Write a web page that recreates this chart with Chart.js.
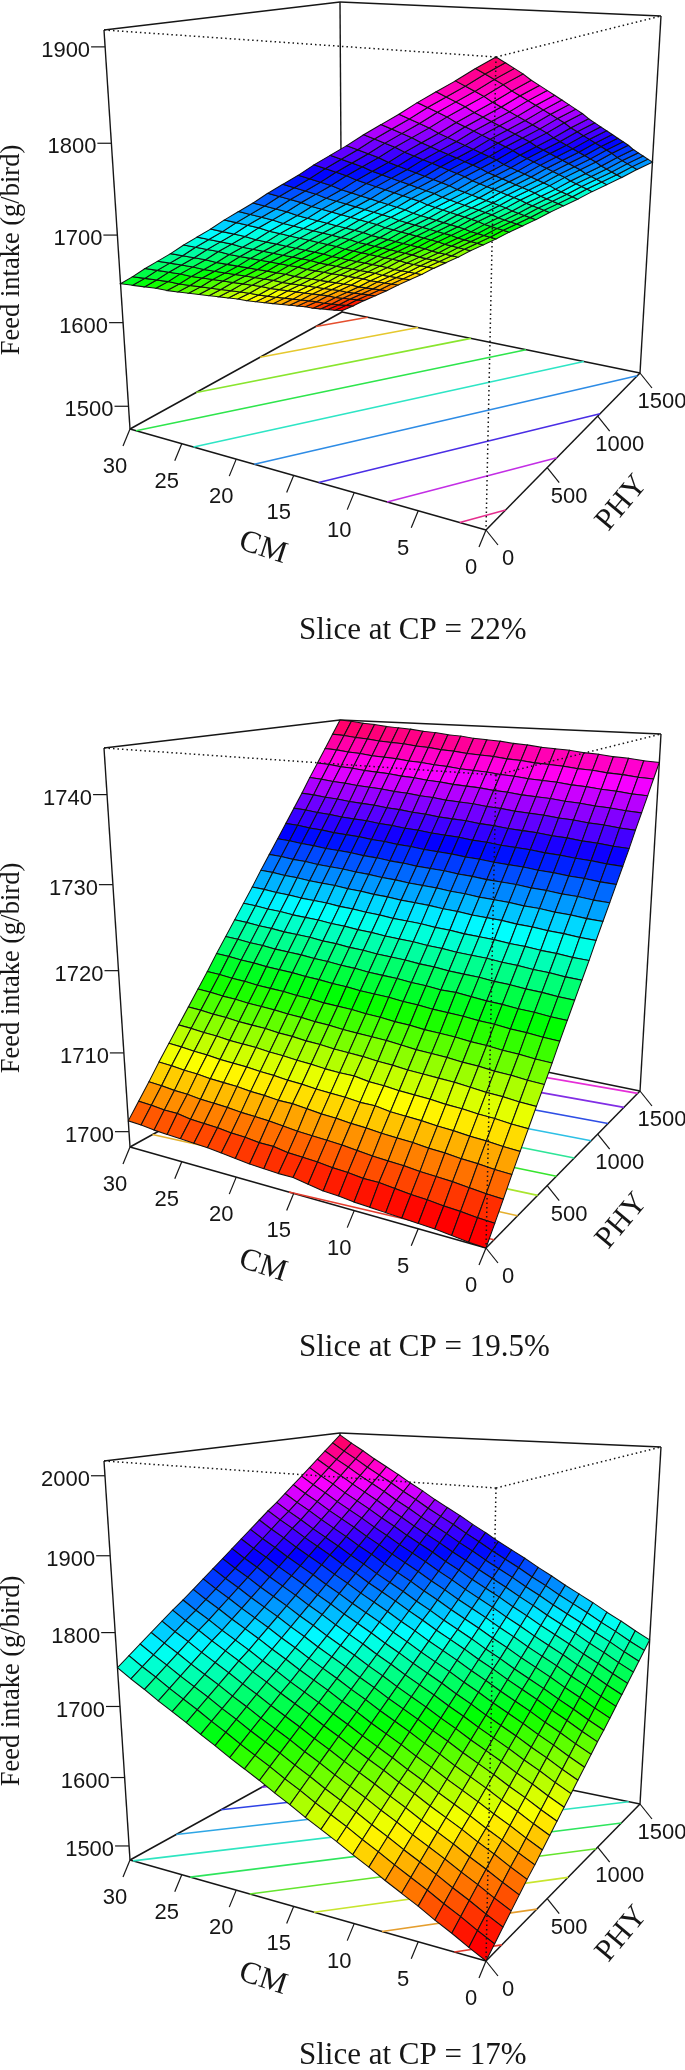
<!DOCTYPE html>
<html lang="en">
<head>
  <meta charset="UTF-8">
  <title>Feed intake response surfaces</title>
  <script src="https://cdn.jsdelivr.net/npm/chart.js"></script>
  <style>
    html, body { margin: 0; background: #fff; }
    canvas { position: absolute; left: 0; }
  </style>
</head>
<body>
  <canvas id="slice22" width="685" height="718" style="top:0"></canvas>
  <canvas id="slice195" width="685" height="713" style="top:718px"></canvas>
  <canvas id="slice17" width="685" height="639" style="top:1431px"></canvas>

  <script>
    // axis values
    const cmTicks = [0, 5, 10, 15, 20, 25, 30];
    const phyTicks = [0, 500, 1000, 1500];
    const zTicks22 = [1500, 1600, 1700, 1800, 1900];
    const zTicks195 = [1700, 1710, 1720, 1730, 1740];
    const zTicks17 = [1500, 1600, 1700, 1800, 1900, 2000];
    const cmGrid = [0, 1.25, 2.5, 3.75, 5, 6.25, 7.5, 8.75, 10, 11.25, 12.5, 13.75, 15, 16.25, 17.5, 18.75, 20, 21.25, 22.5, 23.75, 25, 26.25, 27.5, 28.75, 30];
    const phyGrid = [0, 62.5, 125, 187.5, 250, 312.5, 375, 437.5, 500, 562.5, 625, 687.5, 750, 812.5, 875, 937.5, 1000, 1062.5, 1125, 1187.5, 1250, 1312.5, 1375, 1437.5, 1500];

    // feed intake: one row per phyGrid value, one column per cmGrid value
    const surface22 = [
      [1917,1906,1894,1883,1872,1860,1849,1838,1826,1815,1804,1792,1781,1770,1758,1747,1736,1724,1713,1702,1690,1679,1668,1656,1645],
      [1910,1899,1887,1876,1865,1853,1842,1831,1819,1808,1797,1785,1774,1763,1751,1740,1729,1717,1706,1695,1683,1672,1661,1649,1638],
      [1903,1892,1880,1869,1858,1846,1835,1824,1812,1801,1790,1778,1767,1756,1744,1733,1722,1710,1699,1688,1676,1665,1654,1642,1631],
      [1896,1885,1873,1862,1851,1839,1828,1817,1805,1794,1783,1771,1760,1749,1737,1726,1715,1703,1692,1681,1669,1658,1647,1635,1624],
      [1888,1877,1865,1854,1843,1831,1820,1809,1797,1786,1775,1763,1752,1741,1729,1718,1707,1695,1684,1673,1661,1650,1639,1627,1616],
      [1881,1870,1858,1847,1836,1824,1813,1802,1790,1779,1768,1756,1745,1734,1722,1711,1700,1688,1677,1666,1654,1643,1632,1620,1609],
      [1874,1863,1851,1840,1829,1817,1806,1795,1783,1772,1761,1749,1738,1727,1715,1704,1693,1681,1670,1659,1647,1636,1625,1613,1602],
      [1867,1856,1844,1833,1822,1810,1799,1788,1776,1765,1754,1742,1731,1720,1708,1697,1686,1674,1663,1652,1640,1629,1618,1606,1595],
      [1860,1849,1837,1826,1815,1803,1792,1781,1769,1758,1747,1735,1724,1713,1701,1690,1679,1667,1656,1645,1633,1622,1611,1599,1588],
      [1853,1842,1830,1819,1808,1796,1785,1774,1762,1751,1740,1728,1717,1706,1694,1683,1672,1660,1649,1638,1626,1615,1604,1592,1581],
      [1846,1835,1823,1812,1801,1789,1778,1767,1755,1744,1733,1721,1710,1699,1687,1676,1665,1653,1642,1631,1619,1608,1597,1585,1574],
      [1839,1828,1816,1805,1794,1782,1771,1760,1748,1737,1726,1714,1703,1692,1680,1669,1658,1646,1635,1624,1612,1601,1590,1578,1567],
      [1831,1820,1808,1797,1786,1774,1763,1752,1740,1729,1718,1706,1695,1684,1672,1661,1650,1638,1627,1616,1604,1593,1582,1570,1559],
      [1824,1813,1801,1790,1779,1767,1756,1745,1733,1722,1711,1699,1688,1677,1665,1654,1643,1631,1620,1609,1597,1586,1575,1563,1552],
      [1817,1806,1794,1783,1772,1760,1749,1738,1726,1715,1704,1692,1681,1670,1658,1647,1636,1624,1613,1602,1590,1579,1568,1556,1545],
      [1810,1799,1787,1776,1765,1753,1742,1731,1719,1708,1697,1685,1674,1663,1651,1640,1629,1617,1606,1595,1583,1572,1561,1549,1538],
      [1803,1792,1780,1769,1758,1746,1735,1724,1712,1701,1690,1678,1667,1656,1644,1633,1622,1610,1599,1588,1576,1565,1554,1542,1531],
      [1796,1785,1773,1762,1751,1739,1728,1717,1705,1694,1683,1671,1660,1649,1637,1626,1615,1603,1592,1581,1569,1558,1547,1535,1524],
      [1789,1778,1766,1755,1744,1732,1721,1710,1698,1687,1676,1664,1653,1642,1630,1619,1608,1596,1585,1574,1562,1551,1540,1528,1517],
      [1782,1771,1759,1748,1737,1725,1714,1703,1691,1680,1669,1657,1646,1635,1623,1612,1601,1589,1578,1567,1555,1544,1533,1521,1510],
      [1774,1763,1751,1740,1729,1717,1706,1695,1683,1672,1661,1649,1638,1627,1615,1604,1593,1581,1570,1559,1547,1536,1525,1513,1502],
      [1767,1756,1744,1733,1722,1710,1699,1688,1676,1665,1654,1642,1631,1620,1608,1597,1586,1574,1563,1552,1540,1529,1518,1506,1495],
      [1760,1749,1737,1726,1715,1703,1692,1681,1669,1658,1647,1635,1624,1613,1601,1590,1579,1567,1556,1545,1533,1522,1511,1499,1488],
      [1753,1742,1730,1719,1708,1696,1685,1674,1662,1651,1640,1628,1617,1606,1594,1583,1572,1560,1549,1538,1526,1515,1504,1492,1481],
      [1746,1735,1723,1712,1701,1689,1678,1667,1655,1644,1633,1621,1610,1599,1587,1576,1565,1553,1542,1531,1519,1508,1497,1485,1474]
    ];
    const surface195 = [
      [1698.0,1698.1,1698.3,1698.5,1698.6,1698.7,1698.8,1698.9,1699.0,1699.2,1699.3,1699.6,1699.9,1699.9,1700.0,1700.1,1700.3,1700.5,1700.7,1700.8,1700.9,1701.0,1701.1,1701.3,1701.4],
      [1699.8,1699.9,1700.1,1700.2,1700.4,1700.5,1700.7,1700.9,1700.9,1701.1,1701.2,1701.4,1701.5,1701.6,1701.9,1701.9,1702.1,1702.2,1702.4,1702.5,1702.6,1702.9,1702.9,1703.1,1703.2],
      [1701.6,1701.7,1701.9,1702.1,1702.2,1702.3,1702.5,1702.6,1702.7,1702.9,1703.1,1703.2,1703.3,1703.4,1703.6,1703.8,1703.9,1704.0,1704.2,1704.3,1704.4,1704.6,1704.7,1704.9,1705.0],
      [1703.5,1703.6,1703.8,1703.9,1704.1,1704.2,1704.4,1704.5,1704.6,1704.8,1704.9,1705.1,1705.2,1705.4,1705.6,1705.6,1705.8,1705.9,1706.1,1706.2,1706.3,1706.5,1706.6,1706.8,1706.9],
      [1705.3,1705.4,1705.6,1705.7,1705.9,1706.0,1706.2,1706.3,1706.4,1706.7,1706.7,1706.9,1707.0,1707.1,1707.3,1707.4,1707.6,1707.7,1707.9,1708.0,1708.1,1708.3,1708.4,1708.6,1708.7],
      [1707.1,1707.2,1707.4,1707.5,1707.7,1707.8,1708.0,1708.1,1708.2,1708.4,1708.5,1708.8,1708.8,1708.9,1709.1,1709.2,1709.4,1709.5,1709.7,1709.8,1709.9,1710.1,1710.2,1710.4,1710.5],
      [1708.9,1709.0,1709.2,1709.3,1709.5,1709.7,1709.8,1709.9,1710.0,1710.2,1710.3,1710.5,1710.6,1710.7,1710.9,1711.0,1711.2,1711.3,1711.5,1711.6,1711.7,1711.9,1712.0,1712.2,1712.3],
      [1710.7,1710.8,1711.0,1711.1,1711.3,1711.4,1711.6,1711.7,1711.8,1712.0,1712.2,1712.3,1712.4,1712.5,1712.7,1712.8,1713.0,1713.1,1713.3,1713.4,1713.5,1713.7,1713.8,1714.0,1714.1],
      [1712.5,1712.6,1712.8,1712.9,1713.1,1713.2,1713.4,1713.5,1713.6,1713.8,1713.9,1714.1,1714.2,1714.4,1714.5,1714.6,1714.8,1714.9,1715.1,1715.2,1715.3,1715.5,1715.6,1715.8,1715.9],
      [1714.4,1714.5,1714.7,1714.8,1715.0,1715.1,1715.3,1715.4,1715.5,1715.7,1715.8,1716.0,1716.1,1716.2,1716.4,1716.5,1716.7,1716.8,1717.0,1717.1,1717.2,1717.4,1717.5,1717.7,1717.8],
      [1716.2,1716.3,1716.5,1716.6,1716.8,1716.9,1717.1,1717.3,1717.3,1717.5,1717.6,1717.8,1717.9,1718.0,1718.2,1718.3,1718.5,1718.6,1718.8,1718.9,1719.0,1719.2,1719.3,1719.5,1719.6],
      [1718.0,1718.1,1718.3,1718.4,1718.6,1718.7,1718.9,1719.0,1719.1,1719.3,1719.4,1719.6,1719.7,1719.8,1720.0,1720.1,1720.3,1720.4,1720.6,1720.7,1720.8,1721.0,1721.1,1721.3,1721.4],
      [1719.8,1719.9,1720.1,1720.2,1720.4,1720.5,1720.7,1720.8,1720.9,1721.1,1721.2,1721.4,1721.5,1721.6,1721.8,1721.9,1722.1,1722.2,1722.4,1722.5,1722.6,1722.8,1722.9,1723.1,1723.2],
      [1721.6,1721.7,1721.9,1722.0,1722.2,1722.3,1722.5,1722.6,1722.7,1722.9,1723.0,1723.2,1723.3,1723.4,1723.6,1723.7,1723.9,1724.0,1724.2,1724.3,1724.4,1724.6,1724.7,1724.9,1725.0],
      [1723.5,1723.6,1723.8,1723.9,1724.1,1724.2,1724.4,1724.5,1724.6,1724.8,1724.9,1725.1,1725.2,1725.3,1725.5,1725.6,1725.8,1725.9,1726.1,1726.2,1726.3,1726.5,1726.6,1726.8,1726.9],
      [1725.3,1725.4,1725.6,1725.7,1725.9,1726.0,1726.2,1726.3,1726.4,1726.6,1726.7,1726.9,1727.0,1727.1,1727.3,1727.4,1727.6,1727.7,1727.9,1728.0,1728.1,1728.3,1728.4,1728.6,1728.7],
      [1727.1,1727.2,1727.4,1727.5,1727.7,1727.8,1728.0,1728.1,1728.2,1728.4,1728.5,1728.7,1728.8,1728.9,1729.1,1729.2,1729.4,1729.5,1729.7,1729.8,1729.9,1730.1,1730.2,1730.4,1730.5],
      [1728.9,1729.0,1729.2,1729.3,1729.5,1729.6,1729.8,1729.9,1730.0,1730.2,1730.3,1730.5,1730.6,1730.7,1730.9,1731.0,1731.2,1731.3,1731.5,1731.6,1731.7,1731.9,1732.0,1732.2,1732.3],
      [1730.7,1730.8,1731.0,1731.1,1731.3,1731.4,1731.6,1731.7,1731.8,1732.0,1732.1,1732.3,1732.4,1732.5,1732.7,1732.8,1733.0,1733.1,1733.3,1733.4,1733.5,1733.7,1733.8,1734.0,1734.1],
      [1732.5,1732.6,1732.8,1732.9,1733.1,1733.2,1733.4,1733.5,1733.6,1733.8,1733.9,1734.1,1734.2,1734.3,1734.5,1734.6,1734.8,1734.9,1735.1,1735.2,1735.3,1735.5,1735.6,1735.8,1735.9],
      [1734.4,1734.5,1734.7,1734.8,1735.0,1735.1,1735.3,1735.4,1735.5,1735.7,1735.8,1736.0,1736.1,1736.2,1736.4,1736.5,1736.7,1736.8,1737.0,1737.1,1737.2,1737.4,1737.5,1737.7,1737.8],
      [1736.2,1736.3,1736.5,1736.6,1736.8,1736.9,1737.1,1737.2,1737.3,1737.5,1737.6,1737.8,1737.9,1738.0,1738.2,1738.3,1738.5,1738.6,1738.8,1738.9,1739.0,1739.2,1739.3,1739.5,1739.6],
      [1738.0,1738.1,1738.3,1738.4,1738.6,1738.7,1738.9,1739.0,1739.1,1739.3,1739.4,1739.6,1739.7,1739.8,1740.0,1740.1,1740.3,1740.4,1740.6,1740.7,1740.8,1741.0,1741.1,1741.3,1741.4],
      [1739.8,1739.9,1740.1,1740.2,1740.4,1740.5,1740.7,1740.8,1740.9,1741.1,1741.2,1741.4,1741.5,1741.6,1741.8,1741.9,1742.1,1742.2,1742.4,1742.5,1742.6,1742.8,1742.9,1743.1,1743.2],
      [1741.6,1741.7,1741.9,1742.0,1742.2,1742.3,1742.5,1742.6,1742.7,1742.9,1743.0,1743.2,1743.3,1743.4,1743.6,1743.7,1743.9,1744.0,1744.2,1744.3,1744.4,1744.6,1744.7,1744.9,1745.0]
    ];
    const surface17 = [
      [1479,1490,1502,1513,1525,1536,1547,1559,1570,1582,1593,1604,1616,1627,1639,1650,1661,1673,1684,1696,1707,1718,1730,1741,1753],
      [1490,1501,1513,1524,1536,1547,1558,1570,1581,1593,1604,1615,1627,1638,1650,1661,1672,1684,1695,1707,1718,1729,1741,1752,1764],
      [1501,1512,1524,1535,1547,1558,1569,1581,1592,1604,1615,1626,1638,1649,1661,1672,1683,1695,1706,1718,1729,1740,1752,1763,1775],
      [1512,1523,1535,1546,1558,1569,1580,1592,1603,1615,1626,1637,1649,1660,1672,1683,1694,1706,1717,1729,1740,1751,1763,1774,1786],
      [1523,1534,1546,1557,1569,1580,1591,1603,1614,1626,1637,1648,1660,1671,1683,1694,1705,1717,1728,1740,1751,1762,1774,1785,1797],
      [1534,1545,1557,1568,1580,1591,1602,1614,1625,1637,1648,1659,1671,1682,1694,1705,1716,1728,1739,1751,1762,1773,1785,1796,1808],
      [1544,1555,1567,1578,1590,1601,1612,1624,1635,1647,1658,1669,1681,1692,1704,1715,1726,1738,1749,1761,1772,1783,1795,1806,1818],
      [1555,1566,1578,1589,1601,1612,1623,1635,1646,1658,1669,1680,1692,1703,1715,1726,1737,1749,1760,1772,1783,1794,1806,1817,1829],
      [1566,1577,1589,1600,1612,1623,1634,1646,1657,1669,1680,1691,1703,1714,1726,1737,1748,1760,1771,1783,1794,1805,1817,1828,1840],
      [1577,1588,1600,1611,1623,1634,1645,1657,1668,1680,1691,1702,1714,1725,1737,1748,1759,1771,1782,1794,1805,1816,1828,1839,1851],
      [1588,1599,1611,1622,1634,1645,1656,1668,1679,1691,1702,1713,1725,1736,1748,1759,1770,1782,1793,1805,1816,1827,1839,1850,1862],
      [1599,1610,1622,1633,1645,1656,1667,1679,1690,1702,1713,1724,1736,1747,1759,1770,1781,1793,1804,1816,1827,1838,1850,1861,1873],
      [1610,1621,1633,1644,1656,1667,1678,1690,1701,1713,1724,1735,1747,1758,1770,1781,1792,1804,1815,1827,1838,1849,1861,1872,1884],
      [1621,1632,1644,1655,1667,1678,1689,1701,1712,1724,1735,1746,1758,1769,1781,1792,1803,1815,1826,1838,1849,1860,1872,1883,1895],
      [1632,1643,1655,1666,1678,1689,1700,1712,1723,1735,1746,1757,1769,1780,1792,1803,1814,1826,1837,1849,1860,1871,1883,1894,1906],
      [1643,1654,1666,1677,1689,1700,1711,1723,1734,1746,1757,1768,1780,1791,1803,1814,1825,1837,1848,1860,1871,1882,1894,1905,1917],
      [1653,1664,1676,1687,1699,1710,1721,1733,1744,1756,1767,1778,1790,1801,1813,1824,1835,1847,1858,1870,1881,1892,1904,1915,1927],
      [1664,1675,1687,1698,1710,1721,1732,1744,1755,1767,1778,1789,1801,1812,1824,1835,1846,1858,1869,1881,1892,1903,1915,1926,1938],
      [1675,1686,1698,1709,1721,1732,1743,1755,1766,1778,1789,1800,1812,1823,1835,1846,1857,1869,1880,1892,1903,1914,1926,1937,1949],
      [1686,1697,1709,1720,1732,1743,1754,1766,1777,1789,1800,1811,1823,1834,1846,1857,1868,1880,1891,1903,1914,1925,1937,1948,1960],
      [1697,1708,1720,1731,1743,1754,1765,1777,1788,1800,1811,1822,1834,1845,1857,1868,1879,1891,1902,1914,1925,1936,1948,1959,1971],
      [1708,1719,1731,1742,1754,1765,1776,1788,1799,1811,1822,1833,1845,1856,1868,1879,1890,1902,1913,1925,1936,1947,1959,1970,1982],
      [1719,1730,1742,1753,1765,1776,1787,1799,1810,1822,1833,1844,1856,1867,1879,1890,1901,1913,1924,1936,1947,1958,1970,1981,1993],
      [1730,1741,1753,1764,1776,1787,1798,1810,1821,1833,1844,1855,1867,1878,1890,1901,1912,1924,1935,1947,1958,1969,1981,1992,2004],
      [1741,1752,1764,1775,1787,1798,1809,1821,1832,1844,1855,1866,1878,1889,1901,1912,1923,1935,1946,1958,1969,1980,1992,2003,2015]
    ];

    // floor contours: level, then CM and PHY at each end of the line
    const contours22 = [
      [1900, 1.9, 0, 0, 149], [1850, 7.4, 0, 0, 588], [1800, 12.9, 0, 0, 1026],
      [1750, 18.4, 0, 0, 1465], [1700, 23.9, 0, 5.1, 1500], [1650, 29.4, 0, 10.6, 1500],
      [1600, 30, 395, 16.1, 1500], [1550, 30, 833, 21.6, 1500], [1500, 30, 1272, 27.1, 1500]
    ];
    const contours195 = [
      [1700, 15.4, 0, 0, 60], [1705, 30, 128, 0, 245], [1710, 30, 298, 0, 415],
      [1715, 30, 468, 0, 585], [1720, 30, 640, 0, 757], [1725, 30, 813, 0, 930],
      [1730, 30, 998, 0, 1115], [1735, 30, 1183, 0, 1300], [1740, 30, 1353, 0, 1470]
    ];
    const contours17 = [
      [1500, 2.3, 0, 0, 120], [1550, 7.8, 0, 0, 408], [1600, 13.3, 0, 0, 695],
      [1650, 18.8, 0, 0, 983], [1700, 24.2, 0, 0, 1270], [1750, 29.7, 0, 1, 1500],
      [1800, 30, 270, 6.5, 1500], [1850, 30, 557, 12, 1500], [1900, 30, 845, 17.4, 1500],
      [1950, 30, 1132, 22.9, 1500], [2000, 30, 1420, 28.4, 1500]
    ];

    // box corners on the page, same box in all three panels
    const floorCorners = { F: [486, 530], L: [130, 429], B: [342, 312], R: [640, 373] };
    const roofCorners = { F: [496, 57], L: [104, 30], B: [340, 2], R: [661, 16] };
    const INK = '#161616';

    function quadMap(c) {
      const [x0, y0] = c.F, [x1, y1] = c.L, [x2, y2] = c.B, [x3, y3] = c.R;
      const dx1 = x1 - x2, dx2 = x3 - x2, sx = x0 - x1 + x2 - x3;
      const dy1 = y1 - y2, dy2 = y3 - y2, sy = y0 - y1 + y2 - y3;
      const den = dx1 * dy2 - dx2 * dy1;
      const g = (sx * dy2 - dx2 * sy) / den, h = (dx1 * sy - sx * dy1) / den;
      return (u, v) => {
        const w = g * u + h * v + 1;
        return [((x1 - x0 + g * x1) * u + (x3 - x0 + h * x3) * v + x0) / w,
                ((y1 - y0 + g * y1) * u + (y3 - y0 + h * y3) * v + y0) / w];
      };
    }
    const floorMap = quadMap(floorCorners);
    const roofMap = quadMap(roofCorners);

    function makeProject(zMin, zMax) {
      return (cm, phy, z) => {
        const s = (z - zMin) / (zMax - zMin);
        const w = 0.9 * s / ((1 - s) + 0.9 * s); // top of box is a bit nearer
        const a = floorMap(cm / 30, phy / 1500), b = roofMap(cm / 30, phy / 1500);
        return { x: a[0] + (b[0] - a[0]) * w, y: a[1] + (b[1] - a[1]) * w };
      };
    }

    function lineSet(points, color, width, order, dash) {
      return {
        data: points, showLine: true, pointRadius: 0, fill: false, order: order,
        borderColor: color, borderWidth: width, borderDash: dash || [], tension: 0
      };
    }

    function drawPanel(id, height, surface, contours, zTicks, zMin, zMax, title, titleY) {
      const project = makeProject(zMin, zMax);
      const flat = surface.flat();
      const lo = Math.min(...flat), hi = Math.max(...flat);
      const hue = z => Math.max(0, (z - lo) / (hi - lo) * 352 - 10);
      const datasets = [];

      // box and floor, behind the surface
      const floorZ = zMin, roofZ = zMax;
      const corner = { L: [30, 0], F: [0, 0], R: [0, 1500], B: [30, 1500] };
      const at = (name, z) => project(corner[name][0], corner[name][1], z);
      [['L', 'B'], ['B', 'R'], ['L', 'F'], ['F', 'R']].forEach(e => {
        datasets.push(lineSet([at(e[0], floorZ), at(e[1], floorZ)], INK, 1.5, 5));
      });
      [['L', 'B'], ['B', 'R']].forEach(e => {
        datasets.push(lineSet([at(e[0], roofZ), at(e[1], roofZ)], INK, 1.5, 5));
      });
      ['L', 'B', 'R'].forEach(n => {
        datasets.push(lineSet([at(n, floorZ), at(n, roofZ)], INK, 1.4, 5));
      });

      contours.forEach(c => {
        const color = 'hsl(' + hue(c[0]) + ',78%,54%)';
        datasets.push(lineSet([project(c[1], c[2], zMin), project(c[3], c[4], zMin)], color, 1.6, 4));
      });

      // surface cells
      for (let j = 0; j < phyGrid.length - 1; j++) {
        for (let i = 0; i < cmGrid.length - 1; i++) {
          const z00 = surface[j][i], z10 = surface[j][i + 1], z01 = surface[j + 1][i], z11 = surface[j + 1][i + 1];
          const p0 = project(cmGrid[i], phyGrid[j], z00);
          const cell = lineSet([
            p0,
            project(cmGrid[i + 1], phyGrid[j], z10),
            project(cmGrid[i + 1], phyGrid[j + 1], z11),
            project(cmGrid[i], phyGrid[j + 1], z01),
            p0
          ], '#111', 1.05, 3);
          cell.fill = 'shape';
          cell.backgroundColor = 'hsl(' + hue((z00 + z10 + z01 + z11) / 4) + ',100%,50%)';
          datasets.push(cell);
        }
      }

      // dotted front edges show through the surface
      [[at('L', roofZ), at('F', roofZ)], [at('F', roofZ), at('R', roofZ)], [at('F', roofZ), at('F', floorZ)]].forEach(pts => {
        datasets.push(lineSet(pts, INK, 1.5, 2, [1.5, 3]));
      });

      // tick marks
      cmTicks.forEach(v => {
        const p = project(v, 0, zMin);
        datasets.push(lineSet([p, { x: p.x - 7, y: p.y + 17 }], INK, 1.2, 1));
      });
      phyTicks.forEach(v => {
        const p = project(0, v, zMin);
        datasets.push(lineSet([p, { x: p.x + 12, y: p.y + 15 }], INK, 1.2, 1));
      });
      zTicks.forEach(v => {
        const p = project(30, 0, v);
        datasets.push(lineSet([p, { x: p.x - 14, y: p.y }], INK, 1.2, 1));
      });

      // labels are written through the chart's scales so they sit with the marks
      const textPlugin = {
        id: 'boxText',
        afterDraw(chart) {
          const ctx = chart.ctx, sx = chart.scales.x, sy = chart.scales.y;
          const put = (text, x, y, font, align, angle) => {
            ctx.save();
            ctx.translate(sx.getPixelForValue(x), sy.getPixelForValue(y));
            ctx.rotate((angle || 0) * Math.PI / 180);
            ctx.font = font;
            ctx.fillStyle = INK;
            ctx.textAlign = align || 'center';
            ctx.textBaseline = 'middle';
            ctx.fillText(text, 0, 0);
            ctx.restore();
          };
          const tickFont = '22px "Liberation Sans"', serif = '"Liberation Serif"';
          cmTicks.forEach(v => {
            const p = project(v, 0, zMin);
            put(String(v), p.x - 15, p.y + 38, tickFont);
          });
          phyTicks.forEach(v => {
            const p = project(0, v, zMin);
            put(String(v), p.x + 22, p.y + 29, tickFont);
          });
          zTicks.forEach(v => {
            const p = project(30, 0, v);
            put(String(v), p.x - 15, p.y + 4, tickFont, 'right');
          });
          put('Feed intake (g/bird)', 12, 250, '26.5px ' + serif, 'center', -90);
          put('CM', 263, 548, '31px ' + serif, 'center', 18);
          put('PHY', 622, 503, '31px ' + serif, 'center', -50);
          put(title, 299, titleY, '31px ' + serif, 'left');
        }
      };

      new Chart(document.getElementById(id), {
        type: 'scatter',
        data: { datasets: datasets },
        plugins: [textPlugin],
        options: {
          responsive: false,
          animation: false,
          events: [],
          clip: false,
          layout: { padding: 0 },
          plugins: { legend: { display: false }, tooltip: { enabled: false } },
          scales: {
            x: { type: 'linear', min: 0, max: 685, display: false },
            y: { type: 'linear', min: 0, max: height, reverse: true, display: false }
          }
        }
      });
    }

    drawPanel('slice22', 718, surface22, contours22, zTicks22, 1472, 1917, 'Slice at CP = 22%', 631);
    drawPanel('slice195', 713, surface195, contours195, zTicks195, 1698, 1745, 'Slice at CP = 19.5%', 630);
    drawPanel('slice17', 639, surface17, contours17, zTicks17, 1479, 2018, 'Slice at CP = 17%', 625);
  </script>
</body>
</html>
